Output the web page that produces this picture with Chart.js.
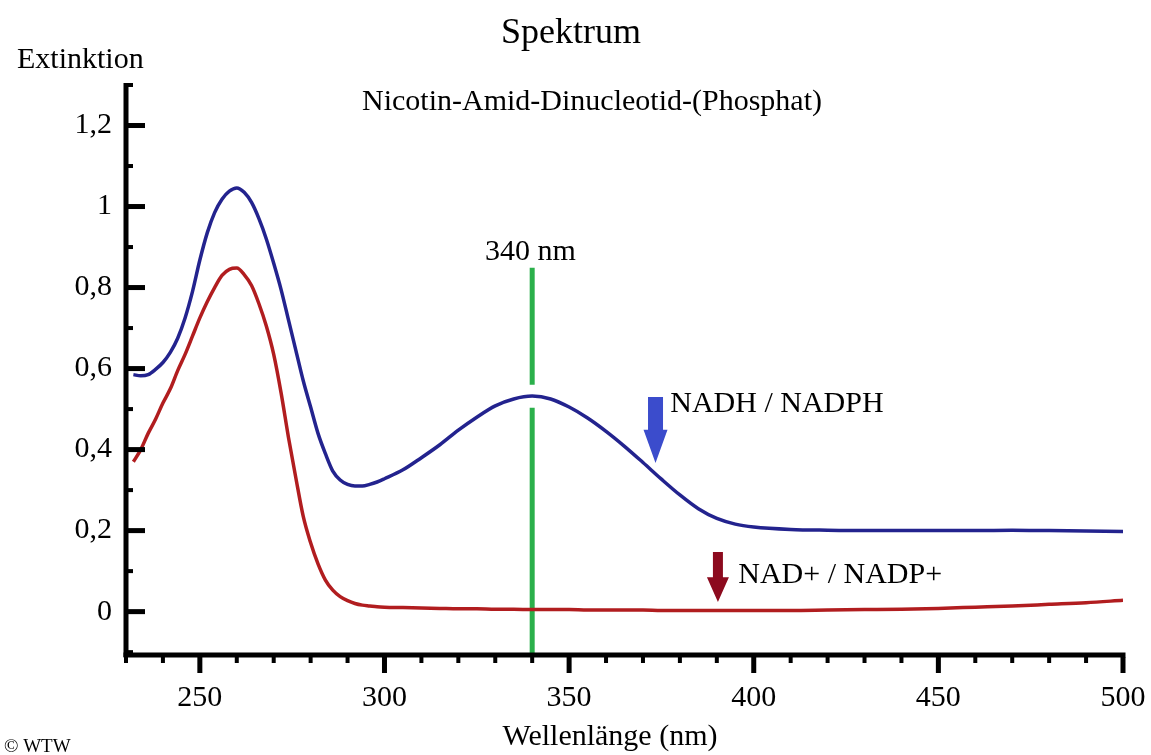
<!DOCTYPE html>
<html>
<head>
<meta charset="utf-8">
<script src="https://cdn.jsdelivr.net/npm/chart.js@4.4.1/dist/chart.umd.min.js"></script>
<style>
  html, body { margin: 0; padding: 0; background: #ffffff; }
  #wrap { width: 1151px; height: 755px; position: relative; }
</style>
</head>
<body>
<div id="wrap"><canvas id="c" width="1151" height="755"></canvas></div>
<script>
// ---------- data ----------
const wavelengths = [232, 234, 236, 238, 240, 242, 244, 246, 248, 250, 252, 254, 256, 258, 260, 262, 264, 266, 268, 270,
  272, 274, 276, 278, 280, 282, 284, 286, 288, 290, 292, 294, 296, 298, 300, 305, 310, 315, 320, 325,
  330, 335, 340, 345, 350, 355, 360, 365, 370, 375, 380, 385, 390, 395, 400, 410, 420, 430, 440, 450,
  460, 470, 480, 490, 500];

const nadhValues = [0.585, 0.582, 0.585, 0.598, 0.615, 0.640, 0.675, 0.725, 0.790, 0.868, 0.935, 0.985, 1.018, 1.038, 1.046, 1.035, 1.010, 0.970, 0.920, 0.860,
  0.795, 0.720, 0.645, 0.570, 0.505, 0.440, 0.390, 0.347, 0.325, 0.314, 0.310, 0.310, 0.314, 0.320, 0.328, 0.350, 0.380, 0.412, 0.448, 0.480,
  0.508, 0.525, 0.532, 0.525, 0.505, 0.478, 0.445, 0.408, 0.368, 0.327, 0.288, 0.254, 0.230, 0.216, 0.209, 0.203, 0.201, 0.200, 0.200, 0.200,
  0.200, 0.201, 0.200, 0.199, 0.198];

const nadValues = [0.370, 0.400, 0.440, 0.475, 0.515, 0.550, 0.595, 0.635, 0.680, 0.725, 0.765, 0.800, 0.830, 0.845, 0.848, 0.832, 0.805, 0.760, 0.705, 0.635,
  0.540, 0.430, 0.330, 0.235, 0.170, 0.118, 0.078, 0.053, 0.037, 0.027, 0.020, 0.016, 0.014, 0.012, 0.011, 0.010, 0.009, 0.008, 0.007, 0.007,
  0.006, 0.006, 0.005, 0.005, 0.005, 0.004, 0.004, 0.004, 0.004, 0.003, 0.003, 0.003, 0.003, 0.003, 0.003, 0.003, 0.004, 0.005, 0.006, 0.008,
  0.011, 0.014, 0.018, 0.022, 0.028];

const markerWavelength = 340;
const markerValues = [0.849, 0.560, null, 0.503, -0.112];

const xTickValues = [250, 300, 350, 400, 450, 500];
const yTickValues = [0, 0.2, 0.4, 0.6, 0.8, 1, 1.2];

const seriesLabels = ['NADH / NADPH', 'NAD+ / NADP+'];
const chartTitle = 'Spektrum';
const chartSubtitle = 'Nicotin-Amid-Dinucleotid-(Phosphat)';
const yAxisTitle = 'Extinktion';
const xAxisTitle = 'Wellenlänge (nm)';
const markerLabel = '340 nm';
const credit = '© WTW';

// ---------- styling ----------
const FONT = "'Liberation Serif', 'Times New Roman', serif";
const BLUE_LINE = '#23238e';
const RED_LINE = '#b11d1f';
const GREEN = '#2bb04b';
const BLUE_ARROW = '#3b4ccc';
const RED_ARROW = '#8c0a1e';

const toPts = (vals) => wavelengths.map((w, i) => ({ x: w, y: vals[i] }));

// annotation placement (data units)
const annotations = {
  marker: { x: 327.2, y: 0.868 },
  blueArrow: { x: 373.4, top: 0.530, head: 0.449, tip: 0.367, shaft: 15, headW: 24 },
  blueText: { x: 377.4, y: 0.493 },
  redArrow: { x: 390.3, top: 0.147, head: 0.085, tip: 0.024, shaft: 10, headW: 22 },
  redText: { x: 395.8, y: 0.071 }
};

const axesPlugin = {
  id: 'axesPlugin',
  afterDatasetsDraw(chart) {
    const { ctx, chartArea: a, scales } = chart;
    const xs = scales.x, ys = scales.y;
    ctx.save();
    ctx.fillStyle = '#000';
    // axis lines
    ctx.fillRect(a.left - 2.5, a.top - 2, 5, a.bottom - a.top + 2);
    ctx.fillRect(a.left - 2.5, a.bottom - 4.5, a.right - a.left + 5, 5);
    // x ticks (outward, downward)
    for (let v = xs.min; v <= xs.max + 0.001; v += 10) {
      const px = xs.getPixelForValue(v);
      const major = Math.abs(v % 50) < 0.001;
      if (major) ctx.fillRect(px - 2.5, a.bottom, 5, 16);
      else ctx.fillRect(px - 2, a.bottom, 4, 6);
    }
    // y ticks (inward, to the right)
    for (let v = -0.1; v <= 1.3001; v += 0.1) {
      const r = Math.round(v * 10);
      const py = ys.getPixelForValue(r / 10);
      if (py > a.bottom - 3) continue;
      if (r % 2 === 0) ctx.fillRect(a.left, py - 2.5, 19, 5);
      else ctx.fillRect(a.left, py - 2, 7, 4);
    }
    ctx.restore();
  },
  afterDraw(chart) {
    const { ctx, scales } = chart;
    const xs = scales.x, ys = scales.y;
    ctx.save();
    ctx.fillStyle = '#000';
    ctx.textBaseline = 'alphabetic';
    // outer texts
    ctx.textAlign = 'center';
    ctx.font = '36px ' + FONT;
    ctx.fillText(chartTitle, 571, 43);
    ctx.font = '30px ' + FONT;
    ctx.fillText(chartSubtitle, 592, 110);
    ctx.fillText(xAxisTitle, 610, 745);
    ctx.textAlign = 'left';
    ctx.fillText(yAxisTitle, 17, 68);
    ctx.font = '19px ' + FONT;
    ctx.fillText(credit, 4, 752);

    // annotations inside the plot
    ctx.font = '30px ' + FONT;
    ctx.fillText(markerLabel, xs.getPixelForValue(annotations.marker.x), ys.getPixelForValue(annotations.marker.y));
    ctx.fillText(seriesLabels[0], xs.getPixelForValue(annotations.blueText.x), ys.getPixelForValue(annotations.blueText.y));
    ctx.fillText(seriesLabels[1], xs.getPixelForValue(annotations.redText.x), ys.getPixelForValue(annotations.redText.y));

    const arrow = (a, color) => {
      const cx = xs.getPixelForValue(a.x);
      const top = ys.getPixelForValue(a.top);
      const head = ys.getPixelForValue(a.head);
      const tip = ys.getPixelForValue(a.tip);
      ctx.fillStyle = color;
      ctx.beginPath();
      ctx.moveTo(cx - a.shaft / 2, top);
      ctx.lineTo(cx + a.shaft / 2, top);
      ctx.lineTo(cx + a.shaft / 2, head);
      ctx.lineTo(cx + a.headW / 2, head);
      ctx.lineTo(cx, tip);
      ctx.lineTo(cx - a.headW / 2, head);
      ctx.lineTo(cx - a.shaft / 2, head);
      ctx.closePath();
      ctx.fill();
    };
    arrow(annotations.blueArrow, BLUE_ARROW);
    arrow(annotations.redArrow, RED_ARROW);
    ctx.restore();
  }
};

new Chart(document.getElementById('c'), {
  type: 'line',
  data: {
    datasets: [
      {
        label: seriesLabels[0],
        data: toPts(nadhValues),
        borderColor: BLUE_LINE,
        borderWidth: 3.5,
        pointRadius: 0,
        cubicInterpolationMode: 'monotone',
        order: 1
      },
      {
        label: seriesLabels[1],
        data: toPts(nadValues),
        borderColor: RED_LINE,
        borderWidth: 3.5,
        pointRadius: 0,
        cubicInterpolationMode: 'monotone',
        order: 2
      },
      {
        label: markerLabel,
        data: markerValues.map(v => ({ x: markerWavelength, y: v })),
        borderColor: GREEN,
        borderWidth: 5,
        pointRadius: 0,
        spanGaps: false,
        borderCapStyle: 'butt',
        order: 3
      }
    ]
  },
  options: {
    responsive: false,
    animation: false,
    devicePixelRatio: 1,
    layout: { padding: { top: 85, right: 28, left: 0, bottom: 0 } },
    plugins: { legend: { display: false }, title: { display: false }, tooltip: { enabled: false } },
    scales: {
      x: {
        type: 'linear',
        min: 230,
        max: 500,
        border: { display: false },
        grid: { display: false, drawTicks: false },
        afterBuildTicks: (s) => { s.ticks = xTickValues.map(v => ({ value: v })); },
        afterFit: (s) => { s.height = 98; s.paddingLeft = 0; s.paddingRight = 0; },
        ticks: {
          autoSkip: false,
          maxRotation: 0,
          padding: 23,
          color: '#000',
          font: { family: FONT, size: 30 },
          callback: (v) => String(v)
        }
      },
      y: {
        type: 'linear',
        min: -0.112,
        max: 1.3,
        border: { display: false },
        grid: { display: false, drawTicks: false },
        afterBuildTicks: (s) => { s.ticks = yTickValues.map(v => ({ value: v })); },
        afterFit: (s) => { s.width = 126; s.paddingTop = 0; s.paddingBottom = 0; },
        ticks: {
          autoSkip: false,
          padding: 14,
          color: '#000',
          font: { family: FONT, size: 30 },
          callback: (v) => String(Math.round(v * 10) / 10).replace('.', ',')
        }
      }
    }
  },
  plugins: [axesPlugin]
});
</script>
</body>
</html>
